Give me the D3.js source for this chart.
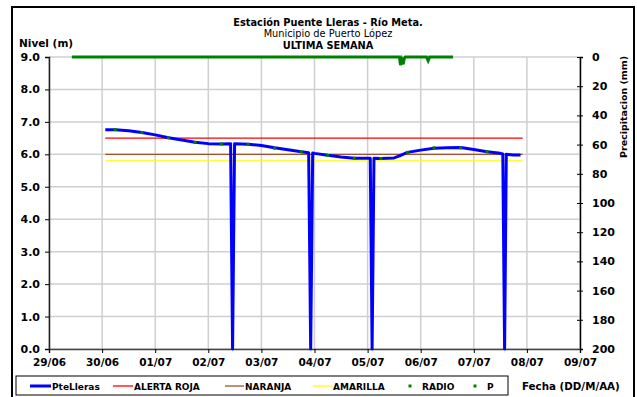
<!DOCTYPE html>
<html><head><meta charset="utf-8">
<script src="https://cdn.jsdelivr.net/npm/d3@7"></script>
<style>body{margin:0;background:#fff}svg{display:block}text{font-family:"DejaVu Sans",sans-serif}</style>
</head><body><svg id="c" width="637" height="397"></svg>
<script>
// ---- data ----
const dateLabels = ["29/06","30/06","01/07","02/07","03/07","04/07","05/07","06/07","07/07","08/07","09/07"];
const levelTicks = [0,1,2,3,4,5,6,7,8,9];
const precipTicks = [0,20,40,60,80,100,120,140,160,180,200];
// PteLleras level (m), time in days from 29/06 00:00
const levelDays = [1.06,1.25,1.5,1.75,2.0,2.25,2.5,2.75,3.0,3.25,3.42,3.457,3.495,3.75,4.0,4.25,4.5,4.75,4.89,4.928,4.966,5.0,5.25,5.5,5.75,6.0,6.05,6.085,6.12,6.25,6.5,6.6,6.75,7.0,7.25,7.5,7.75,8.0,8.25,8.5,8.546,8.58,8.612,8.75,8.88];
const levelVals = [6.76,6.76,6.73,6.67,6.60,6.51,6.44,6.37,6.33,6.32,6.33,0,6.33,6.31,6.27,6.20,6.14,6.08,6.05,0,6.04,6.03,5.97,5.92,5.88,5.88,5.88,0,5.88,5.87,5.89,5.95,6.06,6.13,6.19,6.20,6.21,6.15,6.08,6.03,6.01,0,6.0,5.98,5.98];
// RADIO readings (m)
const radioDays = [1.25,1.75,2.25,2.75,3.25,3.75,4.25,4.75,5.25,5.75,6.25,6.75,7.25,7.75,8.25];
const radioVals = [6.76,6.67,6.51,6.37,6.32,6.31,6.19,6.08,5.97,5.88,5.87,6.06,6.20,6.20,6.08];
// thresholds (m)
const alertNames = ["ALERTA ROJA","NARANJA","AMARILLA"];
const alertVals = [6.5,6.0,5.8];
const alertRange = [1.06,8.92];
// precipitation P (mm)
const pDays = [0.43,6.6,6.62,6.645,6.67,6.69,6.71,7.11,7.14,7.17,7.61];
const pVals = [0,0,5.5,2,5,1,0,0,2.5,0,0];

// ---- drawing ----
const svg = d3.select("#c");
const X0=49, X1=580, Y0=349, Y1=57;
const x = d3.scaleLinear().domain([0,10]).range([X0,X1]);
const yL = d3.scaleLinear().domain([0,9]).range([Y0,Y1]);
const yR = d3.scaleLinear().domain([0,200]).range([Y1,Y0]);
const colors = {level:"#0000ff", alerts:["#ff0000","#a0522d","#ffff00"], green:"#008000"};

// outer border
svg.append("rect").attr("x",12).attr("y",7).attr("width",622).attr("height",394)
  .attr("fill","none").attr("stroke","#000").attr("stroke-width",2);

// grid
const grid = svg.append("g").attr("stroke","#cfcfcf").attr("stroke-width",1.5);
levelTicks.forEach(v=>grid.append("line").attr("x1",X0).attr("x2",X1).attr("y1",yL(v)).attr("y2",yL(v)));
dateLabels.forEach((d,i)=>grid.append("line").attr("x1",x(i)).attr("x2",x(i)).attr("y1",Y1).attr("y2",Y0));

// axes
const axL = d3.axisLeft(yL).tickValues(levelTicks).tickFormat(d3.format(".1f")).tickSize(4).tickPadding(5);
svg.append("g").attr("transform",`translate(${X0},0)`).call(axL)
  .call(g=>{g.select(".domain").attr("stroke","#222").attr("stroke-width",1.5);
    g.selectAll("text").attr("font-size",11).attr("font-weight","bold").attr("fill","#000");});
const axR = d3.axisRight(yR).tickValues(precipTicks).tickSize(3).tickPadding(9);
svg.append("g").attr("transform",`translate(${X1},0)`).call(axR)
  .call(g=>{g.select(".domain").attr("stroke","#000").attr("stroke-width",1.5);
    g.selectAll(".tick line").attr("x1",-3);
    g.selectAll("text").attr("font-size",11).attr("font-weight","bold").attr("fill","#000");});
const axB = d3.axisBottom(x).tickValues(d3.range(dateLabels.length)).tickFormat(i=>dateLabels[i]).tickSize(4).tickPadding(6);
svg.append("g").attr("transform",`translate(0,${Y0})`).call(axB)
  .call(g=>{g.select(".domain").attr("stroke","#444").attr("stroke-width",1.5);
    g.selectAll("text").attr("font-size",10.5).attr("font-weight","bold").attr("fill","#000");});

// thresholds
alertVals.forEach((v,i)=>svg.append("line").attr("x1",x(alertRange[0])).attr("x2",x(alertRange[1]))
  .attr("y1",yL(v)).attr("y2",yL(v)).attr("stroke",colors.alerts[i]).attr("stroke-width",1.3));

// level line
const lvl = levelDays.map((d,i)=>[d,levelVals[i]]);
svg.append("path").attr("d",d3.line().x(d=>x(d[0])).y(d=>yL(d[1]))(lvl))
  .attr("fill","none").attr("stroke",colors.level).attr("stroke-width",3).attr("stroke-linejoin","round");

// radio dots
radioDays.forEach((d,i)=>svg.append("rect").attr("x",x(d)-1.5).attr("y",yL(radioVals[i])-1.5)
  .attr("width",3).attr("height",3).attr("fill",colors.green));

// precipitation
const pp = pDays.map((d,i)=>[d,pVals[i]]);
svg.append("path").attr("d",d3.line().x(d=>x(d[0])).y(d=>yR(d[1]))(pp))
  .attr("fill","none").attr("stroke",colors.green).attr("stroke-width",3);

// titles
const T = (t,xx,yy,sz,w,anchor)=>svg.append("text").attr("x",xx).attr("y",yy).attr("font-size",sz)
  .attr("font-weight",w).attr("text-anchor",anchor||"middle").text(t);
T("Estación Puente Lleras - Río Meta.",328,26,9.8,"bold");
T("Municipio de Puerto López",328,36.5,9.8,"normal");
T("ULTIMA SEMANA",328,48.5,9.8,"bold");
T("Nivel (m)",19,47,10.5,"bold","start");
T("Fecha (DD/M/AA)",522,390,10.3,"bold","start");
svg.append("text").attr("transform","translate(627,107) rotate(-90)").attr("text-anchor","middle")
  .attr("font-size",9.5).attr("font-weight","bold").text("Precipitacion (mm)");

// legend
svg.append("rect").attr("x",16).attr("y",376).attr("width",492).attr("height",19)
  .attr("fill","#fff").attr("stroke","#000").attr("stroke-width",1);
const legY=386;
const leg = [
  {t:"PteLleras",type:"line",c:colors.level,w:3,x0:30,x1:51},
  {t:alertNames[0],type:"line",c:colors.alerts[0],w:1.3,x0:113,x1:133},
  {t:alertNames[1],type:"line",c:colors.alerts[1],w:1.3,x0:225,x1:244},
  {t:alertNames[2],type:"line",c:colors.alerts[2],w:1.3,x0:313,x1:332},
  {t:"RADIO",type:"dot",c:colors.green,x0:410,x1:421},
  {t:"P",type:"dot",c:colors.green,x0:475,x1:486}
];
leg.forEach(l=>{
  if(l.type==="line") svg.append("line").attr("x1",l.x0).attr("x2",l.x1).attr("y1",legY).attr("y2",legY).attr("stroke",l.c).attr("stroke-width",l.w);
  else svg.append("rect").attr("x",l.x0-1.5).attr("y",legY-1.5).attr("width",3).attr("height",3).attr("fill",l.c);
  svg.append("text").attr("x",l.x1+1).attr("y",legY+3.5).attr("font-size",9).attr("font-weight","bold").text(l.t);
});
</script></body></html>
